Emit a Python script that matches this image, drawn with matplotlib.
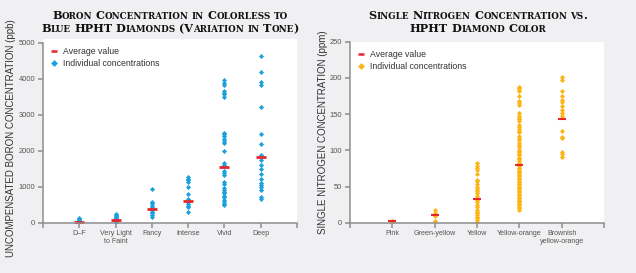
import matplotlib
matplotlib.use("Agg")
import matplotlib.pyplot as plt
from matplotlib.offsetbox import TextArea, HPacker, VPacker, AnchoredOffsetbox
from matplotlib.lines import Line2D

# ---- boron data (ppb) ----
boron_cats = ["D\u2013F", "Very Light\nto Faint", "Fancy", "Intense", "Vivid", "Deep"]
boron_df = [120, 100, 80, 60, 40, 20, 10, 5]
boron_light = [230, 200, 180, 150, 120, 100, 80, 60, 40, 30, 20]
boron_fancy = [926, 583, 537, 490, 444, 398, 352, 306, 259, 213, 167]
boron_intense = [1269, 1222, 1176, 1130, 990, 796, 657, 611, 565, 518, 472, 426, 287]
boron_vivid = [3960, 3890, 3830, 3670, 3610, 3560, 3500, 2500, 2450, 2400, 2330,
               2270, 2200, 1990, 1650, 1600, 1440, 1390, 1330, 1120, 1070, 970,
               900, 860, 820, 750, 700, 630, 580, 530, 480]
boron_deep = [4640, 4170, 3910, 3830, 3220, 2460, 2190, 1880, 1740, 1600, 1480,
              1350, 1220, 1090, 1050, 1000, 910, 720, 650]
boron_avg = [28, 65, 380, 600, 1546, 1830]

# ---- nitrogen data (ppm) ----
nitro_cats = ["Pink", "Green-yellow", "Yellow", "Yellow-orange", "Brownish\nyellow-orange"]
nitro_pink = [0.5, 1, 1.5, 2, 2.5, 3]
nitro_green = [17, 14, 9, 3]
nitro_yellow = [82, 79, 76, 73, 67, 59, 57, 53, 50, 47, 44, 41, 37, 31, 28, 24,
                21, 18, 15, 13, 11, 8, 6, 4, 1.5]
nitro_yorange = [188, 186, 184, 182, 175, 168, 165, 162, 151, 148, 145, 143, 140,
                 135, 132, 130, 127, 125, 120, 117, 114, 110, 107, 104, 101, 99,
                 97, 95, 93, 90, 88, 85, 82, 78, 76, 74, 72, 70, 68, 66, 64, 62,
                 60, 58, 56, 54, 52, 50, 48, 46, 44, 42, 40, 38, 36, 34, 32, 30,
                 28, 26, 24, 22, 20, 18]
nitro_brown = [201, 197, 182, 175, 170, 167, 161, 156, 151, 148, 126, 119, 117, 98, 95, 91]
nitro_avg = [2, 10, 33, 80, 143]

BG = "#f0f0f2"
BLUE = "#1ba1dc"
ORANGE = "#fdb515"
RED = "#e8262b"
AXC = "#8e8e8e"
SANS = ["Liberation Sans", "DejaVu Sans"]
SERIF = ["DejaVu Serif"]


def caps_line(text, big, small):
    # fake small caps: lowercase letters drawn as smaller capitals
    words = []
    for w in text.split():
        runs = []
        for ch in w:
            sz = small if ch.islower() else big
            if runs and runs[-1][1] == sz:
                runs[-1][0] += ch.upper()
            else:
                runs.append([ch.upper(), sz])
        boxes = [TextArea(s, textprops=dict(fontsize=z, family=SERIF, weight="bold", color="#111111"))
                 for s, z in runs]
        words.append(HPacker(children=boxes, align="baseline", pad=0, sep=0))
    return HPacker(children=words, align="baseline", pad=0, sep=big * 0.3)


def add_title(fig, lines, x, y):
    box = VPacker(children=[caps_line(l, 8.1, 6.3) for l in lines], align="center", pad=0, sep=2)
    anc = AnchoredOffsetbox(loc="center", child=box, pad=0, frameon=False,
                            bbox_to_anchor=(x, y), bbox_transform=fig.transFigure, borderpad=0)
    fig.add_artist(anc)


def style_axes(ax, ymax, ytop, yticks, ncat, cats):
    ax.set_facecolor("white")
    for s in ["top", "right"]:
        ax.spines[s].set_visible(False)
    for s in ["left", "bottom"]:
        ax.spines[s].set_color(AXC)
        ax.spines[s].set_linewidth(1.1)
    ax.spines["left"].set_bounds(0, ymax)
    ax.set_ylim(0, ytop)
    ax.set_xlim(0, ncat + 1)
    ax.set_yticks(yticks)
    ax.set_xticks(range(ncat + 2))
    ax.set_xticklabels([""] + cats + [""])
    ax.tick_params(colors=AXC, width=1.1, length=3.5, labelcolor="#555555", labelsize=5.4, pad=2)
    ax.tick_params(axis="x", labelsize=5.1)
    for lbl in ax.get_xticklabels() + ax.get_yticklabels():
        lbl.set_family(SANS)


fig = plt.figure(figsize=(6.36, 2.73), dpi=100, facecolor=BG)
ax1 = fig.add_axes([43 / 636, 1 - 222.7 / 273, 254 / 636, (222.7 - 39) / 273])
ax2 = fig.add_axes([350 / 636, 1 - 222.7 / 273, 254 / 636, (222.7 - 41.7) / 273])

boron_groups = [boron_df, boron_light, boron_fancy, boron_intense, boron_vivid, boron_deep]
for i, vals in enumerate(boron_groups):
    ax1.plot([i + 1] * len(vals), vals, ls="none", marker="D", ms=2.6, color=BLUE, mew=0)
ax1.plot(range(1, 7), boron_avg, ls="none", marker="_", ms=7, mew=2, color=RED)
style_axes(ax1, 5000, 5100, range(0, 5001, 1000), 6, boron_cats)

nitro_groups = [nitro_pink, nitro_green, nitro_yellow, nitro_yorange, nitro_brown]
for i, vals in enumerate(nitro_groups):
    ax2.plot([i + 1] * len(vals), vals, ls="none", marker="D", ms=2.6, color=ORANGE, mew=0)
ax2.plot(range(1, 6), nitro_avg, ls="none", marker="_", ms=6, mew=1.5, color=RED)
style_axes(ax2, 250, 250, range(0, 251, 50), 5, nitro_cats)

for ax, col in [(ax1, BLUE), (ax2, ORANGE)]:
    handles = [Line2D([], [], ls="none", marker="_", ms=5, mew=1.8, color=RED),
               Line2D([], [], ls="none", marker="D", ms=3.5, mew=0, color=col)]
    ax.legend(handles, ["Average value", "Individual concentrations"], loc="upper left",
              bbox_to_anchor=(0.0, 1.0), frameon=False, handlelength=0.8, handletextpad=0.6,
              borderaxespad=0.5, labelspacing=0.35, prop=dict(family=SANS, size=6.3),
              labelcolor="#333333")

fig.text(11 / 636, 1 - 138 / 273, "UNCOMPENSATED BORON CONCENTRATION (ppb)", rotation=90,
         ha="center", va="center", fontsize=7, family=SANS, color="#333333")
fig.text(323 / 636, 1 - 132 / 273, "SINGLE NITROGEN CONCENTRATION (ppm)", rotation=90,
         ha="center", va="center", fontsize=7, family=SANS, color="#333333")

add_title(fig, ["Boron Concentration in Colorless to", "Blue HPHT Diamonds (Variation in Tone)"],
          170 / 636, 1 - 22 / 273)
add_title(fig, ["Single Nitrogen Concentration vs.", "HPHT Diamond Color"],
          478 / 636, 1 - 22 / 273)

fig.savefig("out.png", dpi=100, facecolor=BG)
